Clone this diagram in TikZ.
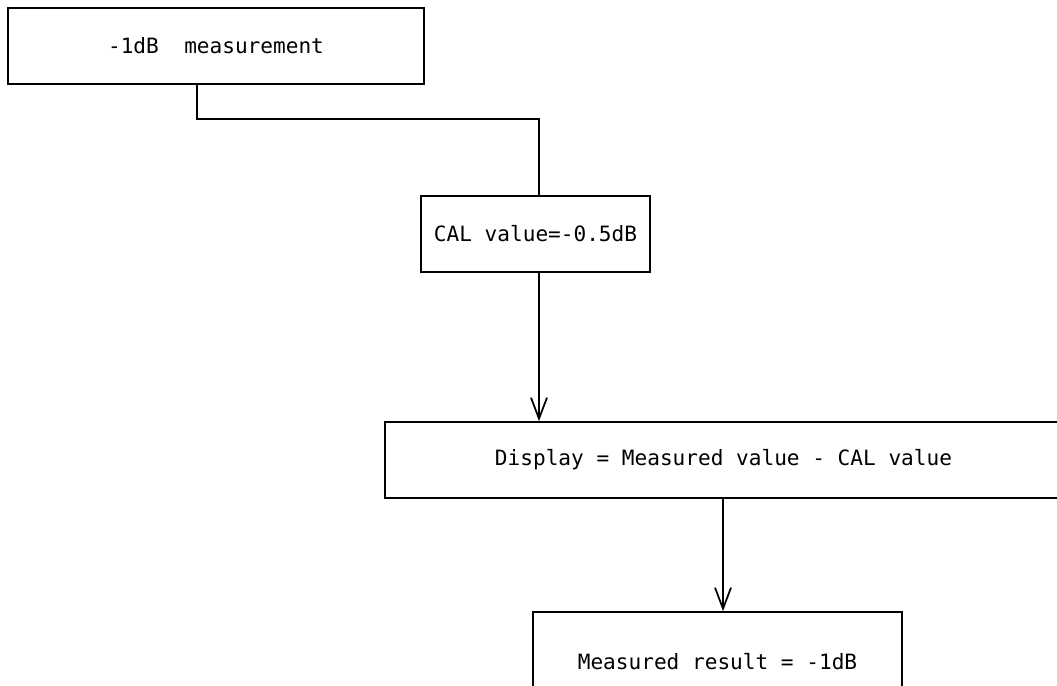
\documentclass[tikz,border=0pt]{standalone}
\usepackage{fontspec}
\setmonofont{DejaVu Sans Mono}
\usetikzlibrary{arrows.meta, positioning}

\begin{document}
\begin{tikzpicture}[
    every node/.style={font=\ttfamily\fontsize{12}{14}\selectfont},
    block/.style={rectangle, draw, line width=1pt, minimum height=1.52cm, inner sep=0pt},
    arrow/.style={-{Straight Barb[length=0.42cm, width=0.32cm, line width=1pt]}, line width=0.9pt},
    link/.style={line width=0.9pt}
]
\useasboundingbox (0, 0) rectangle (21.14, -13.72);
\clip (0, 0) rectangle (21.14, -13.72);

% Boxes
\node[block, minimum width=8.32cm] (meas) at (4.32, -0.92) {-1dB\ \ measurement};
\node[block, minimum width=4.58cm] (cal) at (10.71, -4.68) {CAL value=-0.5dB};
\node[block, minimum width=13.54cm] (disp) at (14.47, -9.2) {Display = Measured value - CAL value};
\node[block, minimum width=7.38cm, minimum height=2cm] (res) at (14.35, -13.24) {Measured result = -1dB};

% Connectors
\coordinate (bend) at (3.94, -2.38);
\coordinate (drop) at (10.78, -2.38);
\coordinate (feed) at (14.46, -11);
\draw[link] (meas.south -| bend) -- (bend) -- (drop) -- (drop |- cal.north);
\draw[arrow] (drop |- cal.south) -- (drop |- disp.north);
\draw[arrow] (feed |- disp.south) -- (feed |- res.north);

\end{tikzpicture}
\end{document}
